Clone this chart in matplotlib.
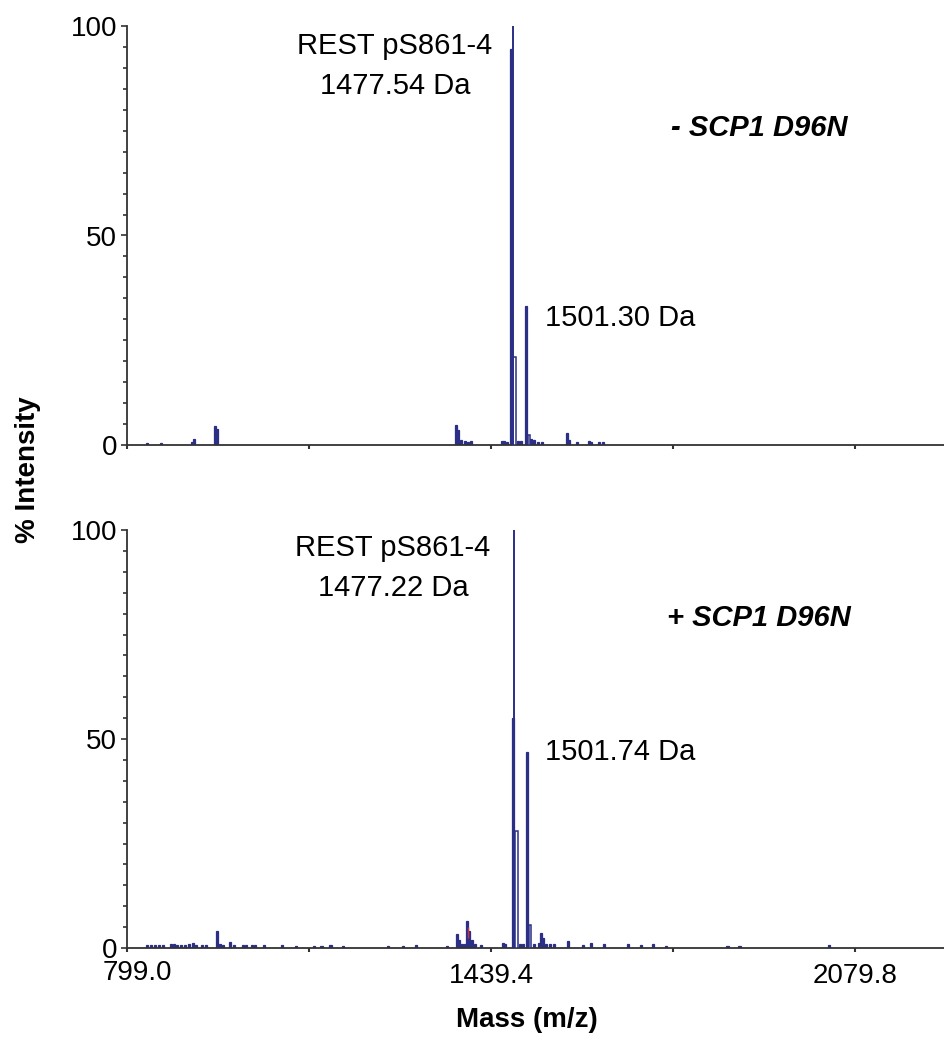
import matplotlib
matplotlib.use("Agg")
import matplotlib.pyplot as plt
from matplotlib.ticker import MultipleLocator, FixedLocator

plt.rcParams['font.family'] = ['Liberation Sans', 'DejaVu Sans']

# ---------------- data ----------------
x_ticks = [799.0, 1119.2, 1439.4, 1759.6, 2079.8]
x_ticklabels = ["799.0", "", "1439.4", "", "2079.8"]
y_ticks = [0, 50, 100]

# top panel (- SCP1 D96N)
top_mass = [834.1, 858.6, 913.0, 916.6, 953.4, 956.9, 1378.0, 1381.5, 1386.8, 1393.8,
            1399.0, 1404.3, 1458.7, 1462.2, 1467.5, 1474.5, 1486.8, 1492.0, 1500.8,
            1509.6, 1514.8, 1521.9, 1528.9, 1572.7, 1576.2, 1590.3, 1611.3, 1614.9,
            1628.9, 1635.9]
top_int = [0.5, 0.5, 0.8, 1.4, 4.6, 3.8, 4.8, 3.6, 1.2, 1.0,
           0.8, 1.0, 1.0, 1.0, 0.8, 94.5, 1.0, 1.0, 33.2,
           1.4, 1.2, 0.8, 0.6, 2.8, 1.2, 0.7, 1.0, 0.7,
           0.7, 0.7]
top_base_mass = [1478.0]
top_base_int = [100.0]
top_hollow_mass = [1480.6, 1506.1]
top_hollow_int = [21.0, 2.4]

# bottom panel (+ SCP1 D96N)
bot_mass = [834.1, 841.1, 848.1, 855.2, 862.2, 876.2, 881.5, 886.8, 893.8, 900.8,
            907.8, 914.8, 920.1, 930.6, 937.6, 956.9, 962.2, 967.5, 979.8, 986.8,
            1002.5, 1007.8, 1018.3, 1023.6, 1039.4, 1071.0, 1095.5, 1127.1, 1141.1,
            1156.9, 1179.7, 1258.7, 1285.0, 1307.8, 1362.2, 1379.7, 1383.2, 1388.5,
            1393.8, 1397.3, 1400.8, 1406.1, 1411.3, 1421.9, 1460.5, 1464.0, 1477.6,
            1490.3, 1495.5, 1503.0, 1514.8, 1523.6, 1527.1, 1530.6, 1535.9, 1542.9,
            1549.9, 1574.5, 1600.8, 1614.9, 1637.7, 1679.8, 1702.6, 1723.6, 1746.4,
            1855.2, 1876.3, 2034.2]
bot_int = [0.7, 0.7, 0.6, 0.7, 0.6, 0.9, 1.0, 0.8, 0.7, 0.7,
           0.9, 1.2, 0.8, 0.7, 0.7, 4.0, 1.0, 0.8, 1.5, 0.8,
           0.6, 0.6, 0.7, 0.7, 0.6, 0.7, 0.5, 0.5, 0.5,
           0.7, 0.5, 0.5, 0.5, 0.7, 0.5, 3.3, 2.0, 1.0,
           1.0, 6.5, 4.0, 2.0, 1.0, 0.7, 1.2, 1.0, 55.0,
           1.0, 1.0, 47.0, 1.0, 1.2, 3.6, 2.5, 1.0, 1.0,
           1.0, 1.7, 0.7, 1.2, 1.0, 1.0, 0.7, 1.0, 0.5,
           0.5, 0.5, 0.7]
bot_base_mass = [1480.3]
bot_base_int = [100.0]
bot_hollow_mass = [1483.8, 1508.0]
bot_hollow_int = [28.0, 5.5]
bot_red_mass = [1398.5]
bot_red_int = [5.0]

top_labels = ["REST pS861-4\n1477.54 Da", "1501.30 Da", "- SCP1 D96N"]
bot_labels = ["REST pS861-4\n1477.22 Da", "1501.74 Da", "+ SCP1 D96N"]

# ---------------- drawing ----------------
W, H = 944, 1040
fig = plt.figure(figsize=(W / 100, H / 100), dpi=100)

navy = '#2b2f86'
spine_c = '#333333'
FS = 20
FS_ANN = 21


def fx(px):
    return px / W


def fy(py):
    return 1 - py / H


def make_ax(top_px, bot_px):
    return fig.add_axes([fx(127), fy(bot_px), fx(944) - fx(127), fy(top_px) - fy(bot_px)])


def style(ax, show_xlabels):
    ax.set_xlim(799.0, 2236.0)
    ax.set_ylim(0, 100)
    for s in ['top', 'right']:
        ax.spines[s].set_visible(False)
    for s in ['left', 'bottom']:
        ax.spines[s].set_color(spine_c)
        ax.spines[s].set_linewidth(1.3)
    ax.yaxis.set_major_locator(FixedLocator(y_ticks))
    ax.yaxis.set_minor_locator(MultipleLocator(5))
    ax.set_yticklabels([str(v) for v in y_ticks], fontsize=FS)
    ax.xaxis.set_major_locator(FixedLocator(x_ticks))
    if show_xlabels:
        # first label is drawn separately, nudged right of the spine as in the reference
        ax.set_xticklabels([""] + x_ticklabels[1:], fontsize=FS)
    else:
        ax.set_xticklabels([])
    ax.tick_params(axis='y', which='major', length=4, width=1.2, color=spine_c, pad=3)
    ax.tick_params(axis='y', which='minor', length=3, width=1.2, color=spine_c)
    ax.tick_params(axis='x', which='major', length=3, width=1.5, color=spine_c, pad=8)
    ax.set_facecolor('none')


def draw_spectrum(ax, mass, inten, bmass, bint, hmass, hint):
    ax.bar(mass, inten, width=3.6, color=navy, edgecolor=navy, linewidth=0.9, zorder=2)
    ax.bar(hmass, hint, width=4.8, facecolor='white', edgecolor=navy, linewidth=1.1, zorder=3)
    ax.vlines(bmass, 0, bint, color=navy, linewidth=1.4, zorder=4)


ax1 = make_ax(26, 445)
draw_spectrum(ax1, top_mass, top_int, top_base_mass, top_base_int, top_hollow_mass, top_hollow_int)
style(ax1, False)

ax2 = make_ax(530, 948)
draw_spectrum(ax2, bot_mass, bot_int, bot_base_mass, bot_base_int, bot_hollow_mass, bot_hollow_int)
ax2.vlines(bot_red_mass, 2.5, bot_red_int, color='#d0303a', linewidth=1.0, zorder=5)
style(ax2, True)
fig.text(fx(137), fy(973), x_ticklabels[0], ha='center', va='center', fontsize=FS)

# annotations
fig.text(fx(395), fy(66), top_labels[0], ha='center', va='center', fontsize=FS_ANN, linespacing=1.55)
fig.text(fx(545), fy(318), top_labels[1], ha='left', va='center', fontsize=FS_ANN)
fig.text(fx(759), fy(128), top_labels[2], ha='center', va='center', fontsize=FS_ANN,
         fontweight='bold', fontstyle='italic')

fig.text(fx(393), fy(568), bot_labels[0], ha='center', va='center', fontsize=FS_ANN, linespacing=1.55)
fig.text(fx(545), fy(752), bot_labels[1], ha='left', va='center', fontsize=FS_ANN)
fig.text(fx(759), fy(618), bot_labels[2], ha='center', va='center', fontsize=FS_ANN,
         fontweight='bold', fontstyle='italic')

fig.text(fx(28), fy(470), "% Intensity", rotation=90, ha='center', va='center',
         fontsize=FS, fontweight='bold')
fig.text(fx(527), fy(1020), "Mass (m/z)", ha='center', va='center',
         fontsize=FS, fontweight='bold')

fig.savefig("out.png", dpi=100)
